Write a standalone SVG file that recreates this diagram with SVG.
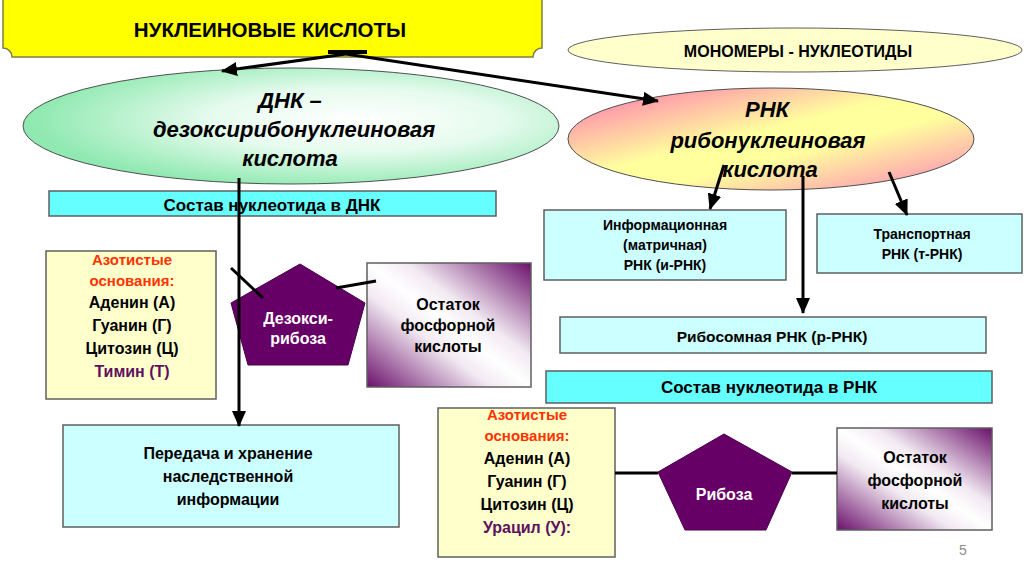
<svg xmlns="http://www.w3.org/2000/svg" width="1024" height="574" viewBox="0 0 1024 574">
<defs>
<style>
text{font-family:"Liberation Sans",Arial,sans-serif;font-weight:bold;text-anchor:middle;fill:#000}
.it{font-style:italic;font-size:22px}
.box{stroke:#5f5f5f;stroke-width:1.5}
.cy{fill:#66ffff}
.lc{fill:#ccffff}
.az{fill:#ffffcc}
.pent{fill:#660066;stroke:#4a004a;stroke-width:1}
.wt{fill:#fff;font-size:16px}
.red{fill:#ff3300;font-size:15px}
.pur{fill:#5e1060}
.n{font-size:16px}
.s14{font-size:14px}
.conn{stroke:#000;stroke-width:3;fill:none}
</style>
<radialGradient id="gDNK" cx="0.62" cy="0.45" r="0.6">
<stop offset="0" stop-color="#ffffff"/>
<stop offset="0.45" stop-color="#e6fbee"/>
<stop offset="1" stop-color="#8fe9b0"/>
</radialGradient>
<linearGradient id="gRNK" x1="0" y1="0" x2="1" y2="1">
<stop offset="0" stop-color="#ff6fb0"/>
<stop offset="0.45" stop-color="#ffff9e"/>
<stop offset="0.6" stop-color="#ffff9e"/>
<stop offset="1" stop-color="#ff7fb8"/>
</linearGradient>
<linearGradient id="gPh" x1="0" y1="1" x2="1" y2="0">
<stop offset="0" stop-color="#6b106b"/>
<stop offset="0.38" stop-color="#f2eaf2"/>
<stop offset="0.5" stop-color="#ffffff"/>
<stop offset="0.62" stop-color="#f2eaf2"/>
<stop offset="1" stop-color="#6b106b"/>
</linearGradient>
<marker id="ah" markerUnits="userSpaceOnUse" markerWidth="16" markerHeight="14" refX="15" refY="7" orient="auto">
<path d="M0,0 L16,7 L0,14 Z" fill="#000"/>
</marker>
</defs>
<rect width="1024" height="574" fill="#fff"/>

<g id="title">
<path d="M12,-10 H533 A9 9 0 0 0 542,-1 V48 A9 9 0 0 0 533,57 H12 A9 9 0 0 0 3,48 V-1 A9 9 0 0 0 12,-10 Z" fill="#ffff00" stroke="#7f7f3f" stroke-width="1.5"/>
<text x="270" y="37" style="font-size:20.5px">НУКЛЕИНОВЫЕ КИСЛОТЫ</text>
</g>

<g id="monomers">
<ellipse cx="795" cy="50" rx="227" ry="22" fill="#ffffcc" stroke="#5f5f5f" stroke-width="1"/>
<text x="798" y="57" style="font-size:16px">МОНОМЕРЫ - НУКЛЕОТИДЫ</text>
</g>

<g id="dnk">
<ellipse cx="291" cy="126" rx="268" ry="58" fill="url(#gDNK)" stroke="#4f4f4f" stroke-width="1"/>
<text class="it" x="290" y="108">ДНК –</text>
<text class="it" x="294" y="137">дезоксирибонуклеиновая</text>
<text class="it" x="290" y="166">кислота</text>
</g>

<g id="rnk">
<ellipse cx="771" cy="139" rx="203" ry="51" fill="url(#gRNK)" stroke="#4f4f4f" stroke-width="1"/>
<text class="it" x="767" y="117">РНК</text>
<text class="it" x="768" y="148">рибонуклеиновая</text>
<text class="it" x="770" y="177">кислота</text>
</g>

<g id="sostav-dnk">
<rect class="box cy" x="49" y="191" width="447" height="25"/>
<text x="272" y="211" style="font-size:17px">Состав нуклеотида в ДНК</text>
</g>

<g id="azot-dnk">
<rect class="box az" x="46" y="251" width="170" height="148"/>
<text class="red" x="132" y="265">Азотистые</text>
<text class="red" x="132" y="286">основания:</text>
<text class="n" x="132" y="308">Аденин (А)</text>
<text class="n" x="132" y="331">Гуанин (Г)</text>
<text class="n" x="132" y="354">Цитозин (Ц)</text>
<text class="n pur" x="132" y="377">Тимин (Т)</text>
</g>

<g id="dezoksiriboza">
<polygon class="pent" points="300,264 365,303 348,365 248,365 231,303"/>
<text class="wt" x="298" y="324">Дезокси-</text>
<text class="wt" x="298" y="344">рибоза</text>
</g>

<g id="fosfor-dnk">
<rect class="box" x="367" y="263" width="164" height="124" fill="url(#gPh)"/>
<text class="n" x="448" y="310">Остаток</text>
<text class="n" x="448" y="331">фосфорной</text>
<text class="n" x="448" y="352">кислоты</text>
</g>

<g id="peredacha">
<rect class="box lc" x="63" y="425" width="336" height="102"/>
<text class="n" x="228" y="459">Передача и хранение</text>
<text class="n" x="228" y="482">наследственной</text>
<text class="n" x="228" y="505">информации</text>
</g>

<g id="i-rnk">
<rect class="box lc" x="544" y="210" width="242" height="70"/>
<text class="s14" x="665" y="230">Информационная</text>
<text class="s14" x="665" y="250">(матричная)</text>
<text class="s14" x="665" y="270">РНК (и-РНК)</text>
</g>

<g id="t-rnk">
<rect class="box lc" x="817" y="214" width="205" height="59"/>
<text class="s14" x="922" y="239">Транспортная</text>
<text class="s14" x="922" y="259">РНК (т-РНК)</text>
</g>

<g id="r-rnk">
<rect class="box lc" x="560" y="317" width="426" height="36"/>
<text x="772" y="342" style="font-size:15.5px">Рибосомная РНК (р-РНК)</text>
</g>

<g id="sostav-rnk">
<rect class="box cy" x="546" y="371" width="446" height="32"/>
<text x="769" y="393" style="font-size:17px">Состав нуклеотида в РНК</text>
</g>

<g id="azot-rnk">
<rect class="box az" x="438" y="408" width="177" height="149"/>
<text class="red" x="527" y="420">Азотистые</text>
<text class="red" x="527" y="441">основания:</text>
<text class="n" x="527" y="464">Аденин (А)</text>
<text class="n" x="527" y="487">Гуанин (Г)</text>
<text class="n" x="527" y="510">Цитозин (Ц)</text>
<text class="n pur" x="527" y="533">Урацил (У):</text>
</g>

<g id="riboza">
<polygon class="pent" points="724,434 792,472 766,530 685,530 658,472"/>
<text class="wt" x="724" y="500">Рибоза</text>
</g>

<g id="fosfor-rnk">
<rect class="box" x="837" y="428" width="155" height="102" fill="url(#gPh)"/>
<text class="n" x="915" y="463">Остаток</text>
<text class="n" x="915" y="486">фосфорной</text>
<text class="n" x="915" y="509">кислоты</text>
</g>

<g id="connectors">
<line class="conn" x1="328" y1="52" x2="367" y2="52" style="stroke-width:4"/>
<line class="conn" x1="346" y1="54" x2="222" y2="71" marker-end="url(#ah)"/>
<line class="conn" x1="346" y1="54" x2="658" y2="101" marker-end="url(#ah)"/>
<line class="conn" x1="239" y1="178" x2="239" y2="426" marker-end="url(#ah)"/>
<line class="conn" x1="724" y1="165" x2="710" y2="209" marker-end="url(#ah)"/>
<line class="conn" x1="803" y1="176" x2="803" y2="313" marker-end="url(#ah)"/>
<line class="conn" x1="889" y1="172" x2="907" y2="215" marker-end="url(#ah)"/>
<line class="conn" x1="231" y1="268" x2="263" y2="298"/>
<line class="conn" x1="336" y1="288" x2="376" y2="281"/>
<line class="conn" x1="615" y1="473" x2="658" y2="473"/>
<line class="conn" x1="792" y1="473" x2="837" y2="473"/>
</g>

<text x="963" y="555" style="font-size:14px;font-weight:normal;fill:#8c8c8c">5</text>
</svg>
